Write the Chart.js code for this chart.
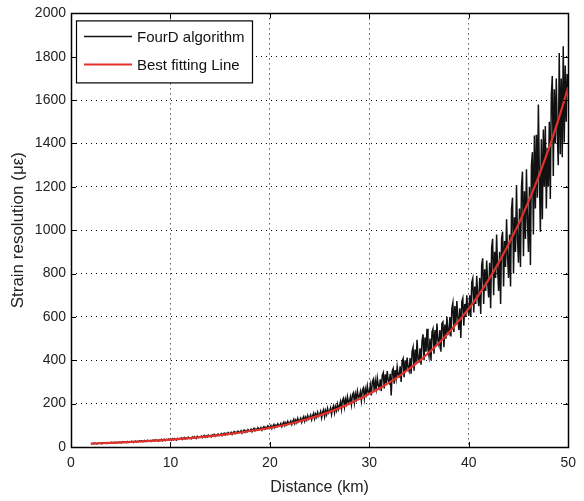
<!DOCTYPE html>
<html>
<head>
<meta charset="utf-8">
<script src="https://cdn.jsdelivr.net/npm/chart.js@4/dist/chart.umd.min.js"></script>
<style>
  html, body { margin: 0; padding: 0; background: #fff; }
  #wrap { width: 584px; height: 501px; }
</style>
</head>
<body>
<div id="wrap"><canvas id="myChart" width="584" height="501"></canvas></div>
<script>
// FourD algorithm, one reading every 0.1 km starting at 2 km
const fourdStart = 2;
const fourdStep = 0.1;
const fourdValues = [
  16,14,17,15,18,16,14,18,16,17,
  18,15,19,17,18,20,16,19,18,20,
  19,22,18,20,22,18,21,20,23,21,
  22,19,24,21,24,22,20,25,22,25,
  23,27,24,21,26,27,23,26,25,28,
  26,29,24,27,30,25,28,31,27,29,
  30,26,31,28,32,29,33,30,27,33,
  31,35,29,34,36,30,35,32,37,33,
  36,31,38,33,39,35,32,40,36,39,
  38,42,35,41,44,37,42,39,45,40,
  43,38,46,41,48,43,39,49,44,47,
  47,50,43,49,53,45,51,47,55,49,
  53,47,56,50,58,50,56,53,60,54,
  57,62,53,60,64,56,63,58,66,60,
  63,68,58,66,71,62,69,64,73,67,
  69,75,64,73,78,68,76,70,80,74,
  76,82,71,80,86,75,84,78,89,81,
  84,90,78,88,94,83,92,86,97,89,
  92,99,85,97,104,90,101,94,107,98,
  101,109,94,107,115,99,112,103,118,106,
  112,120,104,118,128,108,124,113,132,117,
  124,133,114,130,140,119,137,125,145,129,
  137,148,126,144,156,131,152,138,160,142,
  150,164,135,160,172,140,168,150,178,157,
  165,180,150,178,190,158,186,168,198,174,
  190,210,175,215,225,185,220,200,232,205,
  210,232,196,240,250,205,245,222,258,228,
  232,255,215,262,272,225,268,245,282,250,
  250,285,238,300,312,255,305,270,318,282,
  272,312,258,330,342,270,335,295,350,305,
  295,338,238,350,362,292,355,318,370,330,
  325,372,300,395,408,322,400,355,412,365,
  350,410,338,440,460,352,450,390,495,400,
  395,455,380,490,520,400,505,440,545,450,
  420,500,400,530,545,430,540,470,570,490,
  470,540,440,570,577,460,565,500,600,530,
  522,600,510,640,665,530,650,570,673,600,
  540,640,503,670,686,560,660,600,700,640,
  605,700,600,760,778,620,740,660,790,700,
  650,780,613,840,870,660,820,720,860,760,
  690,850,640,920,960,700,900,780,980,820,
  720,900,660,960,993,740,950,830,1050,880,
  780,980,740,1100,1150,800,1060,900,1208,960,
  850,1100,830,1200,1270,880,1180,960,1281,1050,
  900,1200,840,1300,1360,980,1437,1100,1440,1150,
  1580,1250,993,1420,1050,1465,1200,1480,1100,1380,
  1200,1500,1144,1620,1711,1250,1650,1400,1700,1450,
  1300,1817,1350,1700,1336,1849,1405,1760,1500,1720,
  1660
];

// Best fitting line, one value per km
const fitKm = [2,3,4,5,6,7,8,9,10,11,12,13,14,15,16,17,18,19,20,21,22,23,24,25,26,
  27,28,29,30,31,32,33,34,35,36,37,38,39,40,41,42,43,44,45,46,47,48,49,50];
const fitValues = [15.7,17.2,19.0,20.9,23.1,25.4,28.0,30.8,34.0,37.4,41.2,45.4,50.0,55.1,
  60.7,66.9,73.7,80.5,88,97,107,119,132,146,162,180,200,222,246,
  270,297,327,360,396,436,480,528,582,638,702,772,850,935,1028,1132,
  1245,1370,1508,1660];

const xTicks = [0, 10, 20, 30, 40, 50];
const yTicks = [0, 200, 400, 600, 800, 1000, 1200, 1400, 1600, 1800, 2000];

const fourdData = fourdValues.map((v, i) => ({ x: +(fourdStart + i * fourdStep).toFixed(1), y: v }));
const fitData = fitKm.map((k, i) => ({ x: k, y: fitValues[i] }));

const fontFam = 'Arial, "Liberation Sans", sans-serif';

// box, inward ticks and boxed legend, MATLAB style
const frame = {
  id: 'frame',
  afterDatasetsDraw(chart) {
    const { ctx, chartArea: a, scales } = chart;
    ctx.save();
    ctx.strokeStyle = '#000';
    ctx.lineWidth = 1;
    ctx.beginPath();
    xTicks.forEach(t => {
      const px = Math.round(scales.x.getPixelForValue(t)) + 0.5;
      ctx.moveTo(px, a.bottom); ctx.lineTo(px, a.bottom - 5);
      ctx.moveTo(px, a.top); ctx.lineTo(px, a.top + 5);
    });
    yTicks.forEach(t => {
      const py = Math.round(scales.y.getPixelForValue(t)) + 0.5;
      ctx.moveTo(a.left, py); ctx.lineTo(a.left + 5, py);
      ctx.moveTo(a.right, py); ctx.lineTo(a.right - 5, py);
    });
    ctx.stroke();
    ctx.lineWidth = 1.5;
    ctx.strokeRect(Math.round(a.left) + 0.5, Math.round(a.top) + 0.5,
      Math.round(a.right - a.left), Math.round(a.bottom - a.top));

    // legend
    const lx = a.left + 5, ly = a.top + 7, lw = 176, lh = 62;
    ctx.fillStyle = '#fff';
    ctx.fillRect(lx, ly, lw, lh);
    ctx.lineWidth = 1.2;
    ctx.strokeRect(lx + 0.5, ly + 0.5, lw, lh);
    const items = [chart.data.datasets[1], chart.data.datasets[0]];
    ctx.font = '15px ' + fontFam;
    ctx.textBaseline = 'middle';
    items.forEach((ds, i) => {
      const y = ly + 16 + i * 28;
      ctx.strokeStyle = ds.borderColor;
      ctx.lineWidth = Math.min(ds.borderWidth, 2);
      ctx.beginPath();
      ctx.moveTo(lx + 8, y); ctx.lineTo(lx + 56, y);
      ctx.stroke();
      ctx.fillStyle = '#111';
      ctx.fillText(ds.label, lx + 61, y + 1);
    });
    ctx.restore();
  }
};

const ctx = document.getElementById('myChart').getContext('2d');
const myChart = new Chart(ctx, {
  type: 'line',
  data: {
    datasets: [
      {
        label: 'Best fitting Line',
        data: fitData,
        borderColor: '#e2312b',
        borderWidth: 2.2,
        pointRadius: 0,
        cubicInterpolationMode: 'monotone',
        order: 0
      },
      {
        label: 'FourD algorithm',
        data: fourdData,
        borderColor: '#111',
        borderWidth: 1.5,
        pointRadius: 0,
        tension: 0,
        order: 1
      }
    ]
  },
  options: {
    responsive: false,
    animation: false,
    layout: { padding: { top: 10, right: 14, left: 0, bottom: 0 } },
    plugins: {
      legend: { display: false },
      tooltip: { enabled: false }
    },
    scales: {
      x: {
        type: 'linear',
        min: 0,
        max: 50,
        afterBuildTicks: s => { s.ticks = xTicks.map(v => ({ value: v })); },
        afterFit: s => { s.height = 54; },
        ticks: { color: '#222', font: { family: fontFam, size: 14 }, padding: 8, maxRotation: 0,
          callback: v => String(v) },
        grid: { color: '#000', lineWidth: 1, drawTicks: false },
        border: { display: false, dash: [1, 4] },
        title: { display: true, text: 'Distance (km)', color: '#222',
          font: { family: fontFam, size: 16 }, padding: { top: 0, bottom: 4 } }
      },
      y: {
        min: 0,
        max: 2000,
        afterBuildTicks: s => { s.ticks = yTicks.map(v => ({ value: v })); },
        afterFit: s => { s.width = 71; },
        ticks: { color: '#222', font: { family: fontFam, size: 14 }, padding: 5,
          callback: v => String(v) },
        grid: { color: '#000', lineWidth: 1, drawTicks: false },
        border: { display: false, dash: [1, 4] },
        title: { display: true, text: 'Strain resolution (\u03bc\u03b5)', color: '#222',
          font: { family: fontFam, size: 17 }, padding: { top: 8, bottom: 0 } }
      }
    }
  },
  plugins: [frame]
});
</script>
</body>
</html>
